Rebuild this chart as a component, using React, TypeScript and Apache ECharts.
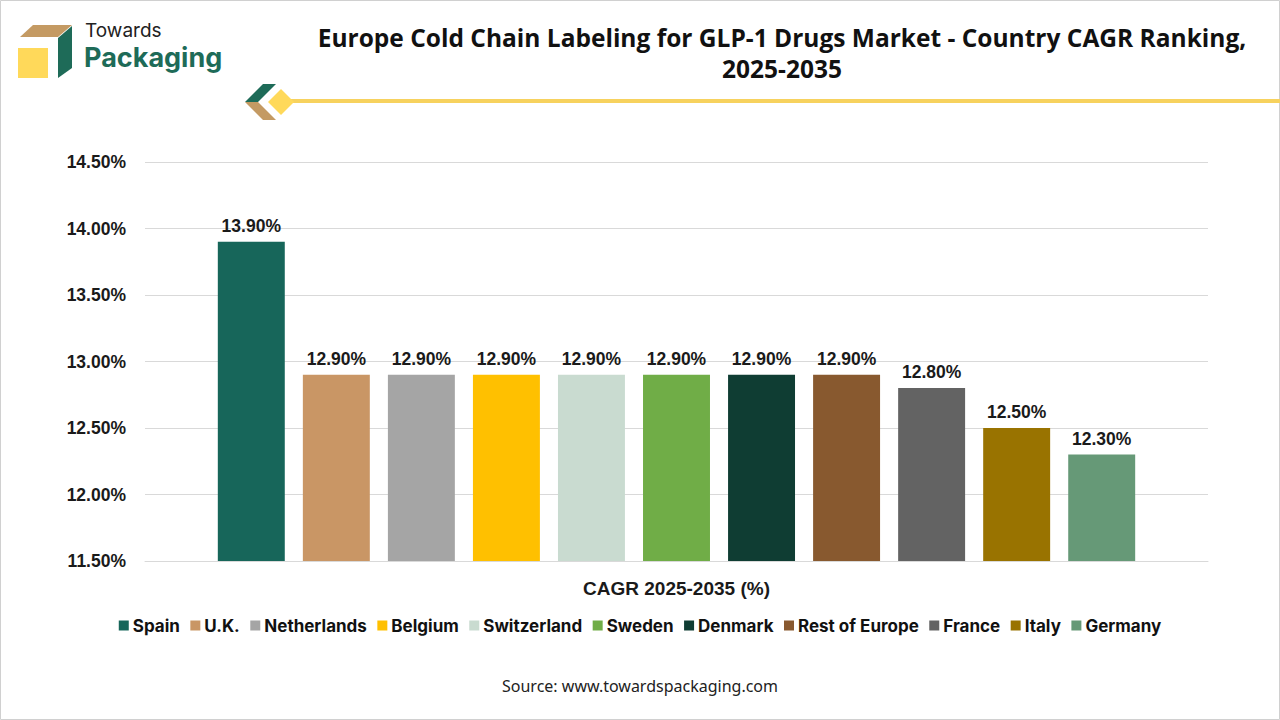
import React, { useEffect, useRef } from "react";
import * as echarts from "echarts";

const categories = ["CAGR 2025-2035 (%)"];
const countries = [
  "Spain",
  "U.K.",
  "Netherlands",
  "Belgium",
  "Switzerland",
  "Sweden",
  "Denmark",
  "Rest of Europe",
  "France",
  "Italy",
  "Germany",
];
const cagrValues = [13.9, 12.9, 12.9, 12.9, 12.9, 12.9, 12.9, 12.9, 12.8, 12.5, 12.3];
const colors = [
  "#17665A",
  "#C99665",
  "#A5A5A5",
  "#FFC000",
  "#C9DBD0",
  "#70AD47",
  "#0F3D33",
  "#88592F",
  "#636363",
  "#997300",
  "#669977",
];
const yMin = 11.5;
const yMax = 14.5;
const yInterval = 0.5;

const titleLines = [
  "Europe Cold Chain Labeling for GLP-1 Drugs Market - Country CAGR Ranking,",
  "2025-2035",
];
const sourceText = "Source: www.towardspackaging.com";

export default function App() {
  const ref = useRef<HTMLDivElement>(null);

  useEffect(() => {
    if (!ref.current) return;
    const chart = echarts.init(ref.current, null, { renderer: "svg" });
    const labelFont = "'Liberation Sans', Arial, sans-serif";
    const series = countries.map((name, i) => ({
      name,
      type: "bar",
      data: [cagrValues[i]],
      itemStyle: { color: colors[i] },
      barGap: "27%",
      barCategoryGap: "13.7%",
      label: {
        show: true,
        position: "top",
        distance: 7,
        formatter: (p: any) => `${Number(p.value).toFixed(2)}%`,
        fontFamily: labelFont,
        fontWeight: "bold",
        fontSize: 17.5,
        color: "#1a1a1a",
      },
    }));

    chart.setOption({
      animation: false,
      backgroundColor: "#ffffff",
      grid: { left: 145, right: 72, top: 162, bottom: 159, containLabel: false },
      legend: {
        data: countries,
        bottom: 81,
        left: "center",
        icon: "rect",
        itemWidth: 10,
        itemHeight: 10,
        itemGap: 10.5,
        textStyle: {
          fontFamily: "Inter, 'Liberation Sans', sans-serif",
          fontWeight: "bold",
          fontSize: 17,
          color: "#111",
          padding: [0, 0, 0, -1],
        },
      },
      xAxis: {
        type: "category",
        data: categories,
        axisLine: { show: true, lineStyle: { color: "#d9d9d9" } },
        axisTick: { show: false },
        axisLabel: {
          margin: 18,
          fontFamily: labelFont,
          fontWeight: "bold",
          fontSize: 19,
          color: "#1a1a1a",
        },
      },
      yAxis: {
        type: "value",
        min: yMin,
        max: yMax,
        interval: yInterval,
        axisLine: { show: false },
        axisTick: { show: false },
        splitLine: { lineStyle: { color: "#d9d9d9" } },
        axisLabel: {
          margin: 19,
          formatter: (v: number) => `${v.toFixed(2)}%`,
          fontFamily: labelFont,
          fontWeight: "bold",
          fontSize: 17.5,
          color: "#1a1a1a",
        },
      },
      series,
      graphic: [
        {
          type: "rect",
          shape: { x: 0.5, y: 0.5, width: 1279, height: 719 },
          style: { fill: "none", stroke: "#d0d0d0", lineWidth: 1 },
          silent: true,
        },
        // logo cube
        {
          type: "polygon",
          shape: { points: [[20, 37], [33, 25], [72, 25], [58, 37]] },
          style: { fill: "#C49A63" },
        },
        {
          type: "polygon",
          shape: { points: [[58, 38], [72, 26], [72, 68], [58, 78]] },
          style: { fill: "#1E6B58" },
        },
        {
          type: "rect",
          shape: { x: 18, y: 48, width: 30, height: 30 },
          style: { fill: "#FFD95A" },
        },
        {
          type: "text",
          left: 85,
          top: 21,
          style: {
            text: "Towards",
            fontFamily: "Inter, 'Open Sans', sans-serif",
            fontSize: 19,
            fill: "#222",
          },
        },
        {
          type: "text",
          left: 84,
          top: 44,
          style: {
            text: "Packaging",
            fontFamily: "Inter, 'Open Sans', sans-serif",
            fontWeight: "bold",
            fontSize: 27,
            fill: "#1E6B58",
          },
        },
        // title
        {
          type: "text",
          x: 782,
          y: 25,
          style: {
            text: titleLines[0],
            textAlign: "center",
            fontFamily: "'Open Sans', 'Liberation Sans', sans-serif",
            fontWeight: "bold",
            fontSize: 24.5,
            fill: "#111",
          },
        },
        {
          type: "text",
          x: 782,
          y: 56,
          style: {
            text: titleLines[1],
            textAlign: "center",
            fontFamily: "'Open Sans', 'Liberation Sans', sans-serif",
            fontWeight: "bold",
            fontSize: 24.5,
            fill: "#111",
          },
        },
        // decoration
        {
          type: "rect",
          shape: { x: 288, y: 99, width: 992, height: 4 },
          style: { fill: "#F7D25E" },
        },
        {
          type: "polygon",
          shape: { points: [[245, 102], [263, 84], [276, 84], [258, 102]] },
          style: { fill: "#1E6B58" },
        },
        {
          type: "polygon",
          shape: { points: [[245, 102], [258, 102], [276, 120], [263, 120]] },
          style: { fill: "#C49A63" },
        },
        {
          type: "polygon",
          shape: { points: [[281, 89], [294, 102], [281, 115], [268, 102]] },
          style: { fill: "#FFD95A" },
        },
        {
          type: "text",
          x: 640,
          y: 686,
          style: {
            text: sourceText,
            textAlign: "center",
            textVerticalAlign: "middle",
            fontFamily: "'Noto Sans', 'Open Sans', sans-serif",
            fontSize: 16,
            fill: "#222",
          },
        },
      ],
    });
    return () => chart.dispose();
  }, []);

  return (
    <div
      ref={ref}
      style={{ position: "fixed", left: 0, top: 0, width: 1280, height: 720, background: "#fff" }}
    />
  );
}
